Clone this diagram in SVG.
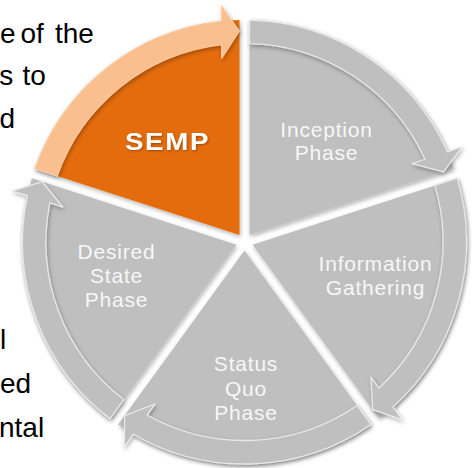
<svg xmlns="http://www.w3.org/2000/svg" xmlns:xlink="http://www.w3.org/1999/xlink" width="472" height="468" viewBox="0 0 472 468">
  <style>
    .para { font-family: "Liberation Sans", Arial, sans-serif; font-size: 28px; fill: #000; }
    .lbl { font-family: "Liberation Sans", Arial, sans-serif; font-size: 21px; fill: #F7F7F7; text-anchor: middle; letter-spacing: 0.8px; }
    .title { font-family: "Liberation Sans", Arial, sans-serif; font-size: 24.5px; font-weight: bold; fill: #FFFFFF; text-anchor: middle; letter-spacing: 1.5px; }
    .wedge-gray { fill: #BFBFBF; }
    .wedge-orange { fill: #E46C0A; }
    .arrow-gray { fill: #BFBFBF; stroke: #E8E8E8; stroke-width: 1.3; stroke-linejoin: round; }
    .arrow-orange { fill: #FABF8F; stroke: #FBCFA8; stroke-width: 1; stroke-linejoin: round; }
  </style>
  <defs>
    <filter id="drop" x="-20%" y="-20%" width="140%" height="140%">
      <feDropShadow dx="1" dy="2" stdDeviation="2" flood-color="#000" flood-opacity="0.3"/>
    </filter>
    <filter id="txtShadow" x="-10%" y="-30%" width="120%" height="160%">
      <feDropShadow dx="0.8" dy="1" stdDeviation="0.8" flood-color="#000" flood-opacity="0.35"/>
    </filter>
    <!-- one 72-degree slice, centred on the origin, spanning 0..72 deg clockwise from 12 o'clock -->
    <path id="wedge" d="M 5 -6.88 L 5 -221.94 A 222 222 0 0 1 209.54 -73.34 Z"/>
    <!-- curved arrow band running along the outer rim of a slice -->
    <path id="arc-arrow" d="M 5 -221.94 A 222 222 0 0 1 202.86 -90.18 L 217.64 -95.08 L 199.02 -70.09 L 167.53 -78.48 L 180.43 -82.75 A 198.5 198.5 0 0 0 5 -198.44 Z"/>
  </defs>

  <!-- paragraph fragments at the left edge -->
  <g id="paragraph" class="para">
    <text x="0" y="43">e<tspan x="20.5">of</tspan><tspan x="55">the</tspan></text>
    <text x="-0.8" y="85">s<tspan x="22.5">to</tspan></text>
    <text x="-0.5" y="128">d</text>
    <text x="0" y="349">l</text>
    <text x="0" y="393">ed</text>
    <text x="-1" y="437">ntal</text>
  </g>

  <!-- cycle segments -->
  <g id="node-semp">
    <g filter="url(#drop)"><use xlink:href="#wedge" class="wedge-orange" transform="translate(244.5 242) rotate(288)"/></g>
    <text class="title" transform="translate(167.5 150) scale(1.13 1)" x="0" y="0" filter="url(#txtShadow)">SEMP</text>
  </g>
  <g id="node-inception">
    <g filter="url(#drop)"><use xlink:href="#wedge" class="wedge-gray" transform="translate(244.5 242) rotate(0)"/></g>
    <text class="lbl" x="326.5" y="136.5">Inception</text>
    <text class="lbl" x="326.5" y="160">Phase</text>
  </g>
  <g id="node-information">
    <g filter="url(#drop)"><use xlink:href="#wedge" class="wedge-gray" transform="translate(244.5 242) rotate(72)"/></g>
    <text class="lbl" x="375.5" y="271">Information</text>
    <text class="lbl" x="375.5" y="295">Gathering</text>
  </g>
  <g id="node-status">
    <g filter="url(#drop)"><use xlink:href="#wedge" class="wedge-gray" transform="translate(244.5 242) rotate(144)"/></g>
    <text class="lbl" x="246" y="371">Status</text>
    <text class="lbl" x="246" y="395.5">Quo</text>
    <text class="lbl" x="246" y="420">Phase</text>
  </g>
  <g id="node-desired">
    <g filter="url(#drop)"><use xlink:href="#wedge" class="wedge-gray" transform="translate(244.5 242) rotate(216)"/></g>
    <text class="lbl" x="116.5" y="259">Desired</text>
    <text class="lbl" x="116.5" y="283">State</text>
    <text class="lbl" x="116.5" y="307">Phase</text>
  </g>

  <!-- clockwise arrows linking each phase to the next -->
  <g id="connectors">
    <g filter="url(#drop)"><use xlink:href="#arc-arrow" class="arrow-orange" transform="translate(244.5 242) rotate(288)"/></g>
    <g filter="url(#drop)"><use xlink:href="#arc-arrow" class="arrow-gray" transform="translate(244.5 242) rotate(0)"/></g>
    <g filter="url(#drop)"><use xlink:href="#arc-arrow" class="arrow-gray" transform="translate(244.5 242) rotate(72)"/></g>
    <g filter="url(#drop)"><use xlink:href="#arc-arrow" class="arrow-gray" transform="translate(244.5 242) rotate(144)"/></g>
    <g filter="url(#drop)"><use xlink:href="#arc-arrow" class="arrow-gray" transform="translate(244.5 242) rotate(216)"/></g>
  </g>
</svg>
